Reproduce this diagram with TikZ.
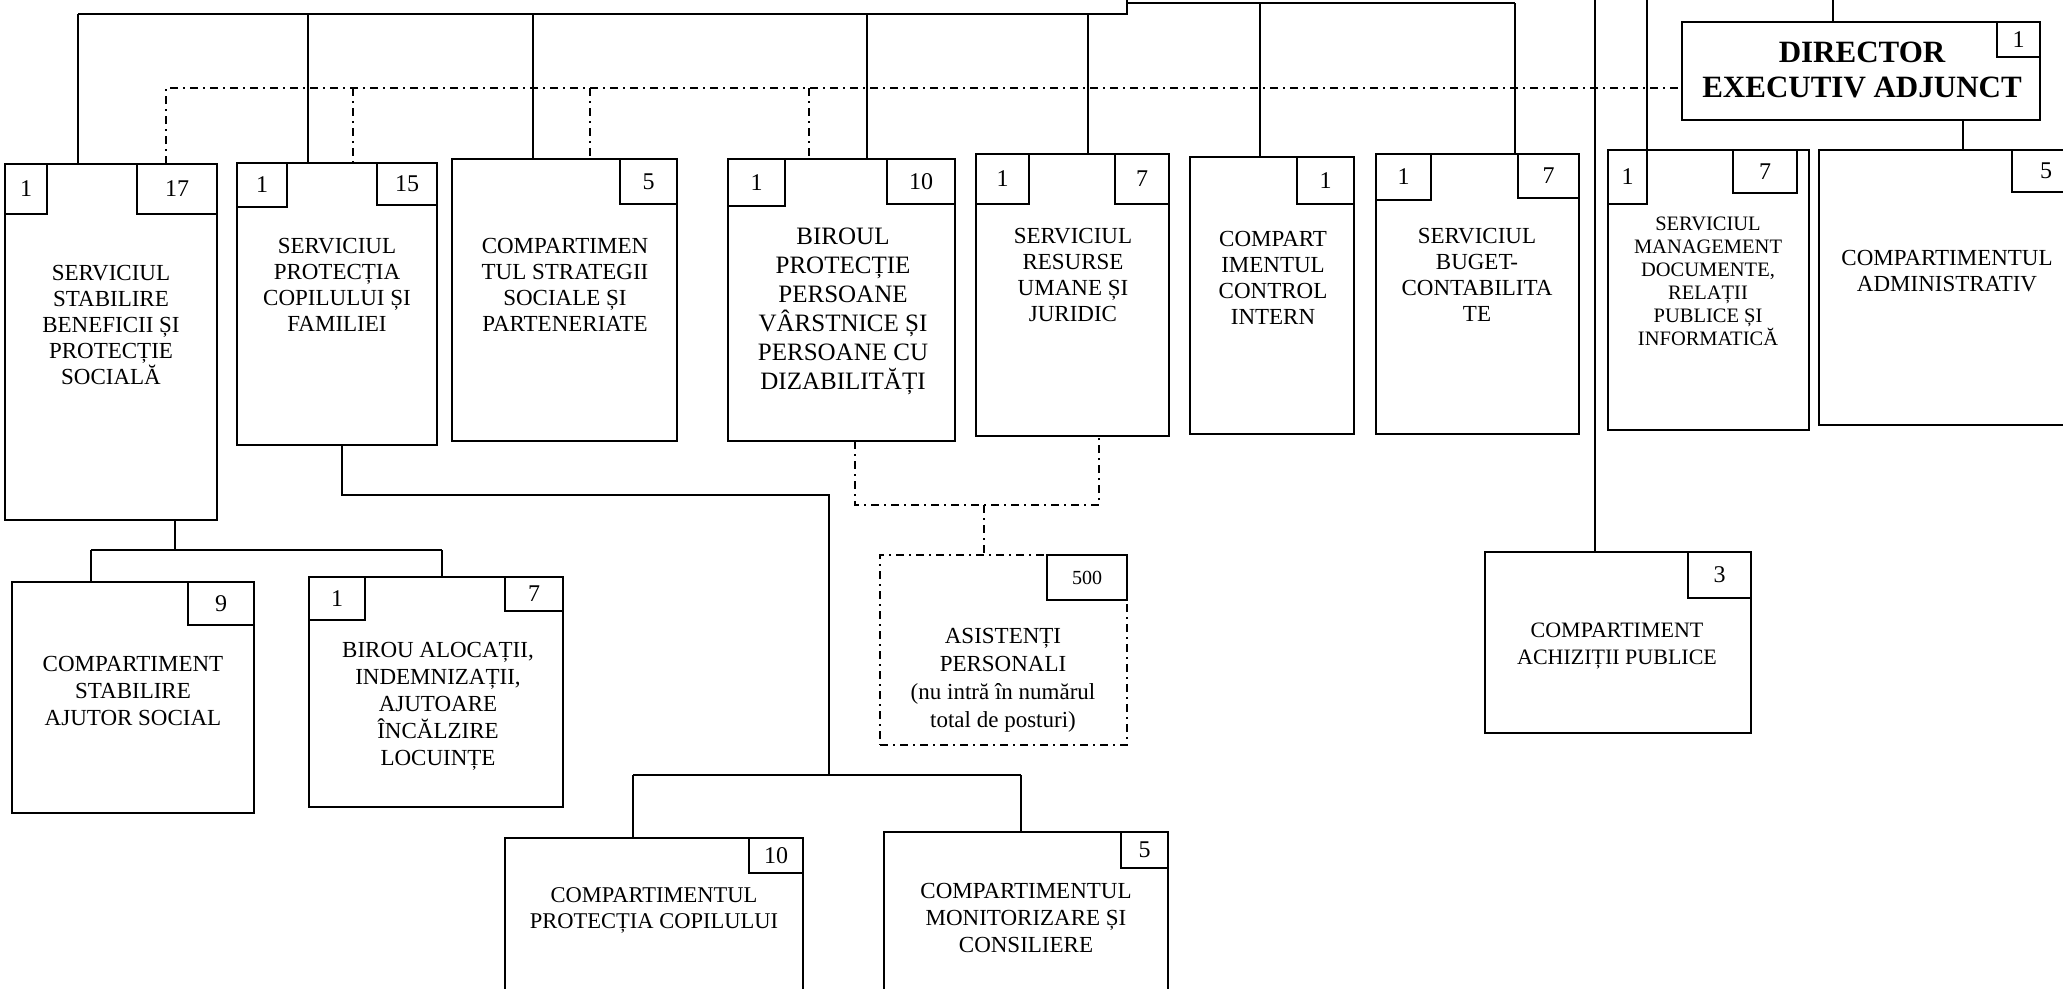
\documentclass[tikz,border=0pt]{standalone}
\usepackage{fontspec}
\setmainfont{Liberation Serif}
\newcommand\orgbox[6][]{\node[box,#1,minimum width={(#5-#3)*1pt},minimum height={(#6-#4)*1pt}] (#2) at ({(#3+#5)/2},{(#4+#6)/2}) {};}
\newcommand\numbx[7][]{\node[num,#1,minimum width={(#5-#3)*1pt},minimum height={(#6-#4)*1pt}] (#2) at ({(#3+#5)/2},{(#4+#6)/2}) {#7};}
\begin{document}
\begin{tikzpicture}[x=1pt,y=-1pt,
  box/.style={draw,line width=1.3pt,inner sep=0pt,outer sep=0pt,fill=white},
  conn/.style={line width=1.3pt},
  dd/.style={line width=1.3pt,dash pattern=on 8pt off 5pt on 2pt off 5pt},
  ddbox/.style={box,dash pattern=on 8pt off 5pt on 2pt off 5pt},
  txt/.style={align=center,inner sep=0pt,font=\fontsize{23}{26}\selectfont},
  num/.style={box,font=\fontsize{24}{24}\selectfont}]
\useasboundingbox (0,0) rectangle (2063,988);
\clip (0,0) rectangle (2063,988);
\fill[white] (0,0) rectangle (2063,988);

% ---------- boxes ----------
\orgbox{b1}{5}{164}{217}{520}
\numbx{b1l}{5}{164}{47}{214}{1}
\numbx{b1r}{137}{164}{217}{214}{17}
\node[txt] (b1t) at (111,325) {SERVICIUL\\STABILIRE\\BENEFICII ȘI\\PROTECȚIE\\SOCIALĂ};

\orgbox{b2}{237}{163}{437}{445}
\numbx{b2l}{237}{163}{287}{207}{1}
\numbx{b2r}{377}{163}{437}{205}{15}
\node[txt] (b2t) at (337,284.5) {SERVICIUL\\PROTECȚIA\\COPILULUI ȘI\\FAMILIEI};

\orgbox{b3}{452}{159}{677}{441}
\numbx{b3r}{620}{159}{677}{204}{5}
\node[txt] (b3t) at (565,284.5) {COMPARTIMEN\\TUL STRATEGII\\SOCIALE ȘI\\PARTENERIATE};

\orgbox{b4}{728}{159}{955}{441}
\numbx{b4l}{728}{159}{785}{206}{1}
\numbx{b4r}{887}{159}{955}{204}{10}
\node[txt,font=\fontsize{25}{29}\selectfont] (b4t) at (843,311.5) {BIROUL\\PROTECȚIE\\PERSOANE\\VÂRSTNICE ȘI\\PERSOANE CU\\DIZABILITĂȚI};

\orgbox{b5}{976}{154}{1169}{436}
\numbx{b5l}{976}{154}{1029}{204}{1}
\numbx{b5r}{1115}{154}{1169}{204}{7}
\node[txt] (b5t) at (1073,275) {SERVICIUL\\RESURSE\\UMANE ȘI\\JURIDIC};

\orgbox{b6}{1190}{157}{1354}{434}
\numbx{b6r}{1297}{157}{1354}{204}{1}
\node[txt] (b6t) at (1273,278) {COMPART\\IMENTUL\\CONTROL\\INTERN};

\orgbox{b7}{1376}{154}{1579}{434}
\numbx{b7l}{1376}{154}{1431}{200}{1}
\numbx{b7r}{1518}{154}{1579}{198}{7}
\node[txt] (b7t) at (1477,275) {SERVICIUL\\BUGET-\\CONTABILITA\\TE};

\orgbox{b8}{1608}{150}{1809}{430}
\numbx{b8l}{1608}{150}{1647}{204}{1}
\numbx{b8r}{1733}{150}{1797}{193}{7}
\node[txt,font=\fontsize{20.5}{23}\selectfont] (b8t) at (1708,281) {SERVICIUL\\MANAGEMENT\\DOCUMENTE,\\RELAȚII\\PUBLICE ȘI\\INFORMATICĂ};

\orgbox{b9}{1819}{150}{2080}{425}
\numbx{b9r}{2012}{150}{2080}{192}{5}
\node[txt] (b9t) at (1947,271.5) {COMPARTIMENTUL\\ADMINISTRATIV};

\orgbox{dir}{1682}{22}{2040}{120}
\numbx{dirn}{1997}{22}{2040}{57}{1}
\node[txt,font=\fontsize{31}{35}\selectfont\bfseries] (dirt) at (1862,69.5) {DIRECTOR\\EXECUTIV ADJUNCT};

\orgbox{b10}{12}{582}{254}{813}
\numbx{b10r}{188}{582}{254}{625}{9}
\node[txt,font=\fontsize{23}{27}\selectfont] (b10t) at (133,690.5) {COMPARTIMENT\\STABILIRE\\AJUTOR SOCIAL};

\orgbox{b11}{309}{577}{563}{807}
\numbx{b11l}{309}{577}{365}{620}{1}
\numbx{b11r}{505}{577}{563}{611}{7}
\node[txt,font=\fontsize{23}{27}\selectfont] (b11t) at (438,706.5) {BIROU ALOCAȚII,\\INDEMNIZAȚII,\\AJUTOARE\\ÎNCĂLZIRE\\LOCUINȚE};

\orgbox[ddbox]{asis}{880}{555}{1127}{745}
\numbx[font=\fontsize{20}{20}\selectfont]{asisn}{1047}{555}{1127}{600}{500}
\node[txt,font=\fontsize{23}{28}\selectfont] (asist) at (1003,680) {ASISTENȚI\\PERSONALI\\(nu intră în numărul\\total de posturi)};

\orgbox{ach}{1485}{552}{1751}{733}
\numbx{achn}{1688}{552}{1751}{598}{3}
\node[txt,font=\fontsize{22}{27}\selectfont] (acht) at (1617,646.5) {COMPARTIMENT\\ACHIZIȚII PUBLICE};

\orgbox{b12}{505}{838}{803}{1000}
\numbx{b12r}{749}{838}{803}{873}{10}
\node[txt,font=\fontsize{22.5}{26}\selectfont] (b12t) at (654,910) {COMPARTIMENTUL\\PROTECȚIA COPILULUI};

\orgbox{b13}{884}{832}{1168}{1000}
\numbx{b13r}{1121}{832}{1168}{868}{5}
\node[txt,font=\fontsize{23}{27}\selectfont] (b13t) at (1026,917.5) {COMPARTIMENTUL\\MONITORIZARE ȘI\\CONSILIERE};

% ---------- solid connectors from the top ----------
\coordinate (t1) at (78,14);
\coordinate (t2) at (308,14);
\coordinate (t3) at (533,14);
\coordinate (t4) at (867,14);
\coordinate (t5) at (1088,14);
\coordinate (st) at (1127,14);
\coordinate (stT) at (1127,-6);
\coordinate (stR) at (1127,3);
\coordinate (t6) at (1260,3);
\coordinate (t7) at (1515,3);
\coordinate (t8) at (1595,-6);
\coordinate (t9) at (1647,-6);
\coordinate (tD) at (1833,-6);
\draw[conn] (t1) -- (st) -- (stT);
\draw[conn] (stR) -- (t7);
\draw[conn] (t1) -- (t1 |- b1.north);
\draw[conn] (t2) -- (t2 |- b2.north);
\draw[conn] (t3) -- (t3 |- b3.north);
\draw[conn] (t4) -- (t4 |- b4.north);
\draw[conn] (t5) -- (t5 |- b5.north);
\draw[conn] (t6) -- (t6 |- b6.north);
\draw[conn] (t7) -- (t7 |- b7.north);
\draw[conn] (t8) -- (t8 |- ach.north);
\draw[conn] (t9) -- (t9 |- b8.north);
\draw[conn] (tD) -- (tD |- dir.north);
\coordinate (e1) at (1963,0);
\draw[conn] (e1 |- dir.south) -- (e1 |- b9.north);

% ---------- dash-dot coordination line ----------
\coordinate (dd1) at (166,88);
\coordinate (dd2) at (353,88);
\coordinate (dd3) at (590,88);
\coordinate (dd4) at (809,88);
\draw[dd] (dd1 |- b1.north) -- (dd1) -- (dir.west |- dd1);
\draw[dd] (dd2) -- (dd2 |- b2.north);
\draw[dd] (dd3) -- (dd3 |- b3.north);
\draw[dd] (dd4) -- (dd4 |- b4.north);

% ---------- b4/b5 to asistenti ----------
\coordinate (a1) at (855,505);
\coordinate (a2) at (1099,505);
\coordinate (a3) at (984,505);
\draw[dd] (a1 |- b4.south) -- (a1) -- (a2) -- (a2 |- b5.south);
\draw[dd] (a3) -- (a3 |- asis.north);

% ---------- b1 children ----------
\coordinate (c1) at (175,550);
\coordinate (c2) at (91,550);
\coordinate (c3) at (442,550);
\draw[conn] (c1 |- b1.south) -- (c1);
\draw[conn] (c2) -- (c3);
\draw[conn] (c2) -- (c2 |- b10.north);
\draw[conn] (c3) -- (c3 |- b11.north);

% ---------- b2 children ----------
\coordinate (d1) at (342,495);
\coordinate (d2) at (829,495);
\coordinate (d3) at (829,775);
\coordinate (d4) at (633,775);
\coordinate (d5) at (1021,775);
\draw[conn] (d1 |- b2.south) -- (d1) -- (d2) -- (d3);
\draw[conn] (d4) -- (d5);
\draw[conn] (d4) -- (d4 |- b12.north);
\draw[conn] (d5) -- (d5 |- b13.north);
\end{tikzpicture}
\end{document}
